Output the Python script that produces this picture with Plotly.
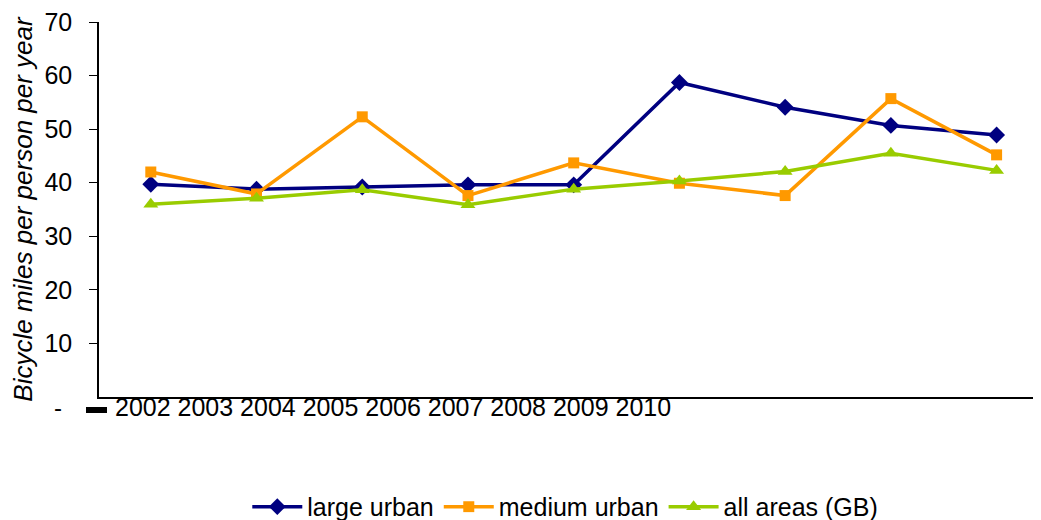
import plotly.graph_objects as go

# data
years = [2002, 2003, 2004, 2005, 2006, 2007, 2008, 2009, 2010]
large_urban = [39.7, 38.8, 39.2, 39.6, 39.6, 58.7, 54.1, 50.7, 48.9]
medium_urban = [42.0, 37.9, 52.3, 37.6, 43.7, 39.9, 37.6, 55.7, 45.2]
all_areas = [36.0, 37.1, 38.7, 35.9, 38.8, 40.3, 42.1, 45.5, 42.3]
y_ticks = [10, 20, 30, 40, 50, 60, 70]

font = "Arial, Liberation Sans, sans-serif"

fig = go.Figure()
fig.add_trace(go.Scatter(
    x=years, y=large_urban, name="large urban", mode="lines+markers",
    line=dict(color="#000080", width=3.5),
    marker=dict(symbol="diamond", size=13, color="#000080")))
fig.add_trace(go.Scatter(
    x=years, y=medium_urban, name="medium urban", mode="lines+markers",
    line=dict(color="#FF9900", width=3.5),
    marker=dict(symbol="square", size=11, color="#FF9900")))
fig.add_trace(go.Scatter(
    x=years, y=all_areas, name="all areas (GB)", mode="lines+markers",
    line=dict(color="#99CC00", width=3.5),
    marker=dict(symbol="triangle-up", size=13, color="#99CC00")))

# the year labels sit squashed together at the left, as in the original
fig.add_annotation(
    text=" ".join(str(y) for y in years), xref="paper", yref="paper",
    x=0.0149, y=-0.027, xanchor="left", yanchor="middle", showarrow=False,
    font=dict(family=font, size=25, color="black"))
fig.add_annotation(
    text="-", xref="paper", yref="paper", x=-0.044, y=-0.027,
    xanchor="center", yanchor="middle", showarrow=False,
    font=dict(family=font, size=24, color="black"))
fig.add_shape(type="rect", xref="paper", yref="paper",
              x0=-0.0138, x1=0.0085, y0=-0.0427, y1=-0.0267,
              fillcolor="black", line=dict(width=0))

# page body has an 8px margin, so the figure is 8px smaller each way
fig.update_layout(
    width=1033, height=512,
    margin=dict(l=91, r=0, t=14, b=123, autoexpand=False),
    paper_bgcolor="white", plot_bgcolor="white",
    font=dict(family=font, size=24, color="black"),
    showlegend=True,
    legend=dict(orientation="h", x=0.495, xanchor="center", y=-0.293,
                yanchor="middle", font=dict(size=25), itemwidth=50),
    xaxis=dict(range=[2001.51, 2010.42], showticklabels=False, ticks="",
               showgrid=False, zeroline=False, showline=True,
               linecolor="black", linewidth=1.5, automargin=False),
    yaxis=dict(range=[0, 70], tickvals=y_ticks, ticks="outside", ticklen=8,
               tickcolor="black", showgrid=False, zeroline=False,
               showline=True, linecolor="black", linewidth=1.5,
               ticklabelstandoff=12, tickfont=dict(size=25),
               ticklabeloverflow="allow", automargin=False,
               title=dict(text="<i>Bicycle miles per person per year</i>",
                          font=dict(size=26), standoff=6)),
)

fig.write_html("out.html")
